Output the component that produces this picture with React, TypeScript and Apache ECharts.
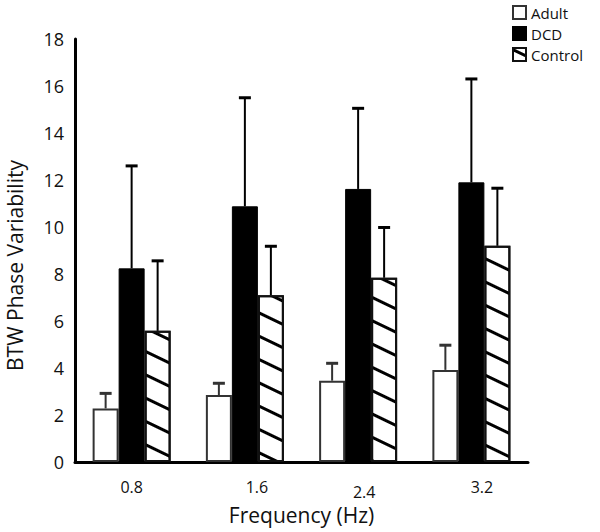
import React, { useEffect, useRef } from "react";
import * as echarts from "echarts";

const categories = ["0.8", "1.6", "2.4", "3.2"];
const seriesNames = ["Adult", "DCD", "Control"];
const adultMean = [2.28, 2.85, 3.46, 3.92];
const adultSD = [0.64, 0.5, 0.74, 1.05];
const dcdMean = [8.24, 10.88, 11.62, 11.9];
const dcdSD = [4.36, 4.62, 3.43, 4.4];
const controlMean = [5.58, 7.1, 7.84, 9.2];
const controlSD = [2.98, 2.08, 2.14, 2.45];
const yTicks = [0, 2, 4, 6, 8, 10, 12, 14, 16, 18];

const FONT = "Open Sans";
const BAR_W = 26;

function errorSeries(name: string, means: number[], sds: number[], offset: number, color: string) {
  return {
    type: "custom",
    name: name + " SD",
    silent: true,
    z: 5,
    data: means.map((m, i) => [i, m, m + sds[i]]),
    renderItem: (params: any, api: any) => {
      const base = api.coord([api.value(0), api.value(1)]);
      const top = api.coord([api.value(0), api.value(2)]);
      const x = base[0] + offset;
      return {
        type: "group",
        children: [
          {
            type: "line",
            shape: { x1: x, y1: base[1], x2: x, y2: top[1] },
            style: { stroke: color, lineWidth: 2 },
          },
          {
            type: "line",
            shape: { x1: x - 6, y1: top[1], x2: x + 6, y2: top[1] },
            style: { stroke: color, lineWidth: 3 },
          },
        ],
      };
    },
  };
}

export default function App() {
  const ref = useRef<HTMLDivElement>(null);
  useEffect(() => {
    if (!ref.current) return;
    const chart = echarts.init(ref.current, null, { renderer: "svg" });
    const labelRich: any = {
      l0: { padding: [0, 0, 0, 0] },
      l1: { padding: [0, 0, 0, 24] },
      l2: { padding: [5, 0, 0, 12] },
      l3: { padding: [0, 0, 0, 21] },
    };
    Object.keys(labelRich).forEach((k) => {
      labelRich[k].fontFamily = FONT;
      labelRich[k].fontSize = 16;
      labelRich[k].color = "#111";
    });
    chart.setOption({
      animation: false,
      backgroundColor: "#fff",
      textStyle: { fontFamily: FONT },
      legend: {
        orient: "vertical",
        left: 507,
        top: 0,
        itemWidth: 13,
        itemHeight: 13,
        itemGap: 6,
        icon: "rect",
        data: seriesNames,
        textStyle: { fontFamily: FONT, fontSize: 15, color: "#111" },
      },
      grid: {
        left: 75,
        right: 72,
        top: 39,
        bottom: 70,
        containLabel: false,
        outerBoundsMode: "none",
      },
      xAxis: {
        type: "category",
        data: categories,
        name: "Frequency (Hz)",
        nameLocation: "middle",
        nameGap: 42,
        nameTextStyle: { fontFamily: FONT, fontSize: 21, color: "#111" },
        axisLine: { lineStyle: { color: "#000", width: 3 } },
        axisTick: { show: false },
        axisLabel: {
          margin: 17,
          formatter: (v: string, i: number) => `{l${i}|${v}}`,
          rich: labelRich,
        },
      },
      yAxis: {
        type: "value",
        min: yTicks[0],
        max: yTicks[yTicks.length - 1],
        interval: 2,
        name: "BTW Phase Variability",
        nameLocation: "middle",
        nameGap: 50,
        nameTextStyle: { fontFamily: FONT, fontSize: 21, color: "#111", padding: [0, 30, 0, 0] },
        axisLine: { show: true, lineStyle: { color: "#000", width: 3 } },
        axisTick: { show: false },
        splitLine: { show: false },
        axisLabel: {
          margin: 11,
          fontFamily: FONT,
          fontSize: 18,
          color: "#111",
          padding: [14, 0, 0, 0],
        },
      },
      series: [
        {
          type: "bar",
          name: "Adult",
          data: adultMean,
          barWidth: BAR_W,
          barGap: "0%",
          itemStyle: { color: "#fff", borderColor: "#333", borderWidth: 2 },
        },
        {
          type: "bar",
          name: "DCD",
          data: dcdMean,
          barWidth: BAR_W,
          barGap: "0%",
          itemStyle: { color: "#000", borderColor: "#000", borderWidth: 1 },
        },
        {
          type: "bar",
          name: "Control",
          data: controlMean,
          barWidth: BAR_W,
          barGap: "0%",
          itemStyle: {
            color: "#fff",
            borderColor: "#111",
            borderWidth: 2,
            decal: {
              symbol: "rect",
              symbolSize: 1,
              dashArrayX: [1, 0],
              dashArrayY: [2.5, 17.5],
              rotation: Math.PI / 7,
              color: "#000",
              backgroundColor: "#fff",
            },
          },
        },
        errorSeries("Adult", adultMean, adultSD, -BAR_W, "#333"),
        errorSeries("DCD", dcdMean, dcdSD, 0, "#000"),
        errorSeries("Control", controlMean, controlSD, BAR_W, "#000"),
      ],
    });
    return () => chart.dispose();
  }, []);
  return (
    <div
      ref={ref}
      style={{ position: "fixed", left: 0, top: 0, width: 600, height: 532 }}
    />
  );
}
